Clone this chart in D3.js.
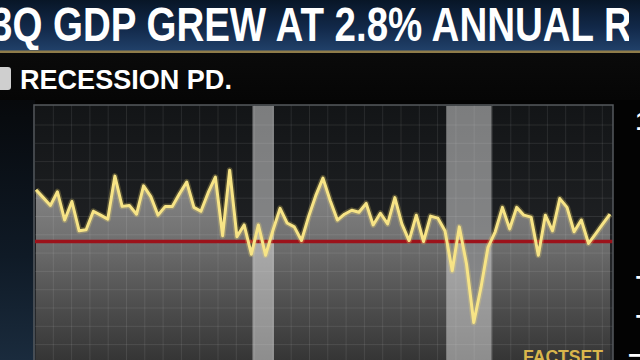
<!DOCTYPE html>
<html>
<head>
<meta charset="utf-8">
<script src="https://cdn.jsdelivr.net/npm/d3@7"></script>
<style>
  body { margin: 0; background: #000; }
  svg { display: block; }
</style>
</head>
<body>
<div id="chart"></div>
<script>
const firstQuarter = new Date(1993, 7, 15); // plotted mid-quarter
const gdpGrowth = [
  5.3, 4.5, 3.7, 5.1, 2.2, 4.1, 1.1, 1.2, 3.1, 2.7,
  2.3, 6.7, 3.6, 3.7, 2.8, 5.7, 4.6, 2.7, 3.6, 3.6,
  4.9, 6.1, 3.5, 3.1, 5.0, 6.6, 0.6, 7.3, 0.5, 1.7,
  -1.3, 1.7, -1.4, 1.1, 3.4, 1.9, 1.5, 0.1, 2.6, 4.7,
  6.5, 4.2, 2.2, 2.8, 3.2, 3.0, 3.9, 1.7, 2.9, 1.8,
  4.5, 1.8, 0.1, 2.7, 0.0, 2.6, 2.4, 1.1, -3.0, 1.5,
  -2.3, -8.3, -4.7, -0.6, 1.0, 3.5, 1.3, 3.5, 2.7, 2.5,
  -1.4, 2.7, 1.1, 4.4, 3.5, 1.0, 2.2, -0.2, 0.8, 1.8,
  2.8
];
const recessionStarts = ["2001-03-01", "2007-12-01"];
const recessionEnds = ["2001-11-30", "2009-06-30"];
const yTicks = [12, 8, 4, 0, -4, -8, -12];

const titleText = "3Q GDP GREW AT 2.8% ANNUAL RATE";
const titleVisible = "3Q GDP GREW AT 2.8% ANNUAL R";
const legendText = "RECESSION PD.";
const sourceText = "FACTSET";

const W = 640, H = 360;
const plot = { left: 35, right: 613, top: 105, bottom: 375 };
const parse = d3.timeParse("%Y-%m-%d");
const quarters = gdpGrowth.map((_, i) => d3.timeMonth.offset(firstQuarter, 3 * i));

const svg = d3.select("#chart").append("svg")
  .attr("width", W).attr("height", H);

const defs = svg.append("defs");
function vGrad(id, stops, y1, y2) {
  const g = defs.append("linearGradient").attr("id", id)
    .attr("x1", 0).attr("x2", 0);
  if (y1 !== undefined) {
    g.attr("gradientUnits", "userSpaceOnUse").attr("y1", y1).attr("y2", y2);
  } else {
    g.attr("y1", 0).attr("y2", 1);
  }
  stops.forEach(([o, c]) => g.append("stop").attr("offset", o).attr("stop-color", c));
}
vGrad("titleGrad", [[0, "#081627"], [0.55, "#12294a"], [1, "#21416a"]]);
vGrad("legendGrad", [[0, "#0a0a0a"], [1, "#060606"]]);
vGrad("leftGrad", [[0, "#07090c"], [0.6, "#0f1a26"], [1, "#1a2b3d"]]);
vGrad("plotGrad", [[0, "#131517"], [1, "#2b2d30"]], plot.top, plot.bottom);
vGrad("areaGrad", [[0, "#8d8d8d"], [0.35, "#727272"], [0.7, "#4e4e4e"], [1, "#333333"]], 165, 365);

// title is cut by the frame after "ANNUAL R"
defs.append("clipPath").attr("id", "titleClip")
  .append("rect").attr("x", -20).attr("y", 0).attr("width", 649).attr("height", 50);

// backgrounds
svg.append("rect").attr("width", W).attr("height", H).attr("fill", "#030303");
svg.append("rect").attr("x", 0).attr("y", 100).attr("width", plot.left).attr("height", H - 100)
  .attr("fill", "url(#leftGrad)");
svg.append("rect").attr("width", W).attr("height", 51).attr("fill", "url(#titleGrad)");
svg.append("rect").attr("y", 50.5).attr("width", W).attr("height", 2.5).attr("fill", "#8f7c4a");
svg.append("rect").attr("y", 53).attr("width", W).attr("height", 47).attr("fill", "url(#legendGrad)");

// scales
const x = d3.scaleTime()
  .domain([quarters[0], quarters[quarters.length - 1]])
  .range([36, 610]);
const y = d3.scaleLinear()
  .domain([-12.5, 14])
  .range([363.5, 104.9]);

// plot background
svg.append("rect")
  .attr("x", plot.left).attr("y", plot.top)
  .attr("width", plot.right - plot.left).attr("height", plot.bottom - plot.top)
  .attr("fill", "url(#plotGrad)");

// area under the line
const area = d3.area()
  .x((d, i) => x(quarters[i]))
  .y0(plot.bottom)
  .y1(d => y(d));
svg.append("path")
  .datum(gdpGrowth)
  .attr("d", area)
  .attr("fill", "url(#areaGrad)");

// decorative grid
const grid = svg.append("g").attr("stroke", "#ffffff").attr("stroke-opacity", 0.09).attr("stroke-width", 1);
d3.range(plot.left + 18.3, plot.right, 18.3).forEach(gx => {
  grid.append("line").attr("x1", gx).attr("x2", gx).attr("y1", plot.top).attr("y2", plot.bottom);
});
d3.range(plot.top + 20, plot.bottom, 18.3).forEach(gy => {
  grid.append("line").attr("x1", plot.left).attr("x2", plot.right).attr("y1", gy).attr("y2", gy);
});

// recession bands
svg.selectAll(".recession")
  .data(recessionStarts)
  .enter()
  .append("rect")
  .attr("class", "recession")
  .attr("x", d => x(parse(d)))
  .attr("width", (d, i) => x(parse(recessionEnds[i])) - x(parse(d)))
  .attr("y", plot.top + 1)
  .attr("height", plot.bottom - plot.top)
  .attr("fill", "#e6e6e6")
  .attr("fill-opacity", 0.5);

// zero line
svg.append("line")
  .attr("x1", plot.left).attr("x2", plot.right)
  .attr("y1", y(0)).attr("y2", y(0))
  .attr("stroke", "#9c121a").attr("stroke-width", 3.5);

// GDP line
const line = d3.line()
  .x((d, i) => x(quarters[i]))
  .y(d => y(d));
svg.append("path")
  .datum(gdpGrowth)
  .attr("d", line)
  .attr("fill", "none")
  .attr("stroke", "#f3dc6c").attr("stroke-opacity", 0.25)
  .attr("stroke-width", 6).attr("stroke-linejoin", "round");
svg.append("path")
  .datum(gdpGrowth)
  .attr("d", line)
  .attr("fill", "none")
  .attr("stroke", "#f7e486")
  .attr("stroke-width", 3)
  .attr("stroke-linejoin", "round");

// plot border
svg.append("rect")
  .attr("x", plot.left - 1).attr("y", plot.top)
  .attr("width", plot.right - plot.left + 1).attr("height", plot.bottom - plot.top)
  .attr("fill", "none").attr("stroke", "#55595e").attr("stroke-width", 1.5);

// right axis (cut off by the frame)
const yAxis = svg.append("g")
  .attr("transform", "translate(650,-3)")
  .call(d3.axisRight(y).tickValues(yTicks).tickSize(0).tickPadding(0));
yAxis.select(".domain").remove();
yAxis.selectAll("text")
  .attr("text-anchor", "middle")
  .attr("fill", "#ffffff")
  .attr("font-family", "'Liberation Sans', Arial, sans-serif")
  .attr("font-weight", "bold")
  .attr("font-size", 26);

// squeezed condensed-looking text
function fitText(parent, str, measureStr, xPos, yPos, width, size, fill) {
  const t = parent.append("text")
    .attr("font-family", "'Liberation Sans', Arial, sans-serif")
    .attr("font-weight", "bold")
    .attr("font-size", size)
    .attr("fill", fill)
    .text(measureStr);
  const sx = width / t.node().getComputedTextLength();
  t.text(str).attr("transform", `translate(${xPos},${yPos}) scale(${sx},1)`);
  return t;
}

// title
const titleG = svg.append("g").attr("clip-path", "url(#titleClip)");
fitText(titleG, titleText, titleVisible, -9, 41, 641, 48, "#ffffff");

// legend
svg.append("rect")
  .attr("x", -10).attr("y", 67).attr("width", 21).attr("height", 23).attr("rx", 3)
  .attr("fill", "#cfcfcf");
fitText(svg, legendText, legendText, 20, 89, 212, 27, "#ffffff");

// source
fitText(svg, sourceText, sourceText, 523, 363, 80, 19, "#d9b64c");
</script>
</body>
</html>
